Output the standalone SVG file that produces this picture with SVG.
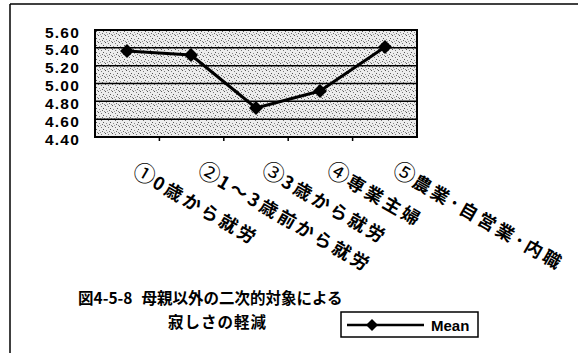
<svg xmlns="http://www.w3.org/2000/svg" width="578" height="353" viewBox="0 0 578 353">
<style>
.ax{font-family:"Liberation Sans",Arial,sans-serif;font-weight:bold;font-size:15.5px;letter-spacing:1.2px;fill:#000;text-anchor:end}
.cat{font-family:"Noto Sans CJK JP","Noto Sans CJK SC",sans-serif;font-weight:bold;font-size:18px;letter-spacing:3px;fill:#000}
.num{font-size:22px;font-weight:normal;letter-spacing:1px}
.ttl{font-family:"Noto Sans CJK JP","Noto Sans CJK SC",sans-serif;font-weight:bold;font-size:15.5px;fill:#000}
.grid{stroke:#000;stroke-width:1.5}
.frame{stroke:#000;stroke-width:1.5;fill:none}
.series{stroke:#000;stroke-width:3;fill:none;stroke-linejoin:round}
</style>
<defs>
<pattern id="stip" width="7" height="7" patternUnits="userSpaceOnUse">
<rect width="7" height="7" fill="#ececec"/>
<rect x="0" y="0" width="1" height="1" fill="#555"/>
<rect x="3" y="1" width="1" height="1" fill="#777"/>
<rect x="5" y="3" width="1" height="1" fill="#555"/>
<rect x="1" y="4" width="1" height="1" fill="#888"/>
<rect x="4" y="5" width="1" height="1" fill="#666"/>
<rect x="6" y="6" width="1" height="1" fill="#888"/>
<rect x="2" y="6" width="1" height="1" fill="#999"/>
</pattern>
<path id="dia" d="M0,-7 L7,0 L0,7 L-7,0 Z" fill="#000"/>
</defs>
<rect width="578" height="353" fill="#fff"/>
<g id="frame">
<line x1="10" y1="4" x2="578" y2="4" class="frame"/>
<line x1="10" y1="4" x2="10" y2="353" class="frame"/>
</g>
<g id="plot">
<rect x="95" y="30" width="322" height="107" fill="url(#stip)" stroke="#000" stroke-width="2"/>
<line x1="95" y1="47.8" x2="417" y2="47.8" class="grid"/>
<line x1="95" y1="65.7" x2="417" y2="65.7" class="grid"/>
<line x1="95" y1="83.5" x2="417" y2="83.5" class="grid"/>
<line x1="95" y1="101.3" x2="417" y2="101.3" class="grid"/>
<line x1="95" y1="119.2" x2="417" y2="119.2" class="grid"/>
<g stroke="#000" stroke-width="1.5">
<line x1="159.4" y1="137" x2="159.4" y2="141"/>
<line x1="223.8" y1="137" x2="223.8" y2="141"/>
<line x1="288.2" y1="137" x2="288.2" y2="141"/>
<line x1="352.6" y1="137" x2="352.6" y2="141"/>
</g>
</g>
<g id="yaxis">
<text class="ax" x="80" y="37.5">5.60</text>
<text class="ax" x="80" y="55.3">5.40</text>
<text class="ax" x="80" y="73.2">5.20</text>
<text class="ax" x="80" y="91">5.00</text>
<text class="ax" x="80" y="108.8">4.80</text>
<text class="ax" x="80" y="126.7">4.60</text>
<text class="ax" x="80" y="144.5">4.40</text>
</g>
<g id="connectors">
<polyline class="series" points="127,51 191,55 256,108 320,91 385,47"/>
</g>
<g id="points">
<use href="#dia" x="127" y="51"/>
<use href="#dia" x="191" y="55"/>
<use href="#dia" x="256" y="108"/>
<use href="#dia" x="320" y="91"/>
<use href="#dia" x="385" y="47"/>
</g>
<g id="categories">
<text class="cat" transform="translate(131,175) rotate(30)"><tspan class="num">①</tspan>0歳から就労</text>
<text class="cat" transform="translate(196,174) rotate(30)"><tspan class="num">②</tspan>1～3歳前から就労</text>
<text class="cat" transform="translate(260,174) rotate(30)"><tspan class="num">③</tspan>3歳から就労</text>
<text class="cat" transform="translate(325,174) rotate(30)"><tspan class="num">④</tspan>専業主婦</text>
<text class="cat" transform="translate(391,174) rotate(30)"><tspan class="num">⑤</tspan>農業･自営業･内職</text>
</g>
<g id="title">
<text class="ttl" x="78" y="304">図4-5-8<tspan dx="9">母親以外の二次的対象による</tspan></text>
<text class="ttl" x="168" y="328" font-size="16" letter-spacing="1">寂しさの軽減</text>
</g>
<g id="legend">
<rect x="341" y="312" width="137" height="25" fill="#fff" stroke="#000" stroke-width="1.5"/>
<line x1="347" y1="325" x2="424" y2="325" stroke="#000" stroke-width="2.5"/>
<path d="M372,319 L378,325 L372,331 L366,325 Z" fill="#000"/>
<text x="431" y="331" font-family="Liberation Sans,Arial,sans-serif" font-weight="bold" font-size="15">Mean</text>
</g>
</svg>
